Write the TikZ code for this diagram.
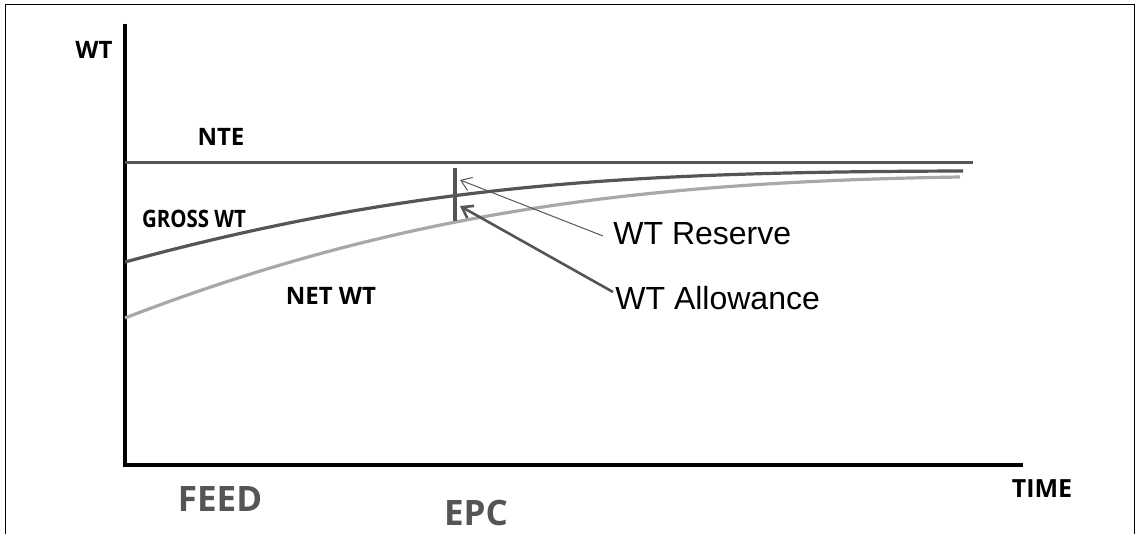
\documentclass[tikz,border=0pt]{standalone}
\usepackage{fontspec}
\setmainfont{Open Sans}
\newfontfamily\arialfont{Liberation Sans}
\usepackage{tikz}
\usetikzlibrary{arrows.meta}

\definecolor{darkline}{HTML}{555555}
\definecolor{lightline}{HTML}{A8A8A8}
\definecolor{phasegray}{HTML}{555555}

\tikzset{
    axis/.style={line width=1.6pt, black},
    lbl/.style={font=\bfseries\fontsize{12}{14}\selectfont, inner sep=0pt},
    phase/.style={font=\bfseries\fontsize{17.5}{20}\selectfont, text=phasegray, inner sep=0pt},
    callout/.style={font=\arialfont\fontsize{16}{18}\selectfont, inner sep=0pt, anchor=west}
}

\begin{document}
\begin{tikzpicture}[x=0.5pt,y=-0.5pt]
    \useasboundingbox (0,0) rectangle (1139,534);

    % draws frame
    \draw[line width=0.5pt] (5,534) -- (5,5) -- (1134,5) -- (1134,534);

    % draws axes
    \coordinate (origin) at (125,465);
    \coordinate (ytop) at (125,24);
    \coordinate (xend) at (1023,465);
    \draw[axis] (ytop) -- (origin) -- (xend);

    % draws NTE line
    \coordinate (nteA) at (125,163);
    \coordinate (nteB) at (973,163);
    \draw[darkline, line width=1.5pt] (nteA) -- (nteB);

    % draws weight curves
    \draw[darkline, line width=1.6pt] (125,262) .. controls (420,182) and (640,172) .. (963,171);
    \draw[lightline, line width=1.6pt] (125,318) .. controls (400,212) and (640,182) .. (960,177);

    % draws EPC tick
    \coordinate (tickTop) at (455,168);
    \coordinate (tickBot) at (455,221);
    \draw[darkline, line width=2pt] (tickTop) -- (tickBot);

    % labels
    \node[lbl] (wt) at (94,50) {WT};
    \node[lbl] (nte) at (221,137) {NTE};
    \node[lbl, xscale=0.85] (gross) at (194,219) {GROSS WT};
    \node[lbl] (net) at (331,296) {NET WT};
    \node[lbl, font=\bfseries\fontsize{12.5}{14}\selectfont] (time) at (1042,489) {TIME};
    \node[phase] (feed) at (220,499) {FEED};
    \node[phase] (epc) at (476,513) {EPC};

    % draws callouts
    \node[callout] (reserve) at (613,234) {WT Reserve};
    \node[callout] (allow) at (615,298) {WT Allowance};
    \coordinate (reserveTip) at (460,180);
    \coordinate (allowTip) at (460,206);
    \draw[darkline, line width=0.5pt, -{Straight Barb[length=5pt,width=7pt]}] ([xshift=-5pt,yshift=-1pt]reserve.west) -- (reserveTip);
    \draw[darkline, line width=1.3pt, -{Straight Barb[length=5pt,width=7pt]}] ([xshift=-1pt,yshift=3pt]allow.west) -- (allowTip);
\end{tikzpicture}
\end{document}
